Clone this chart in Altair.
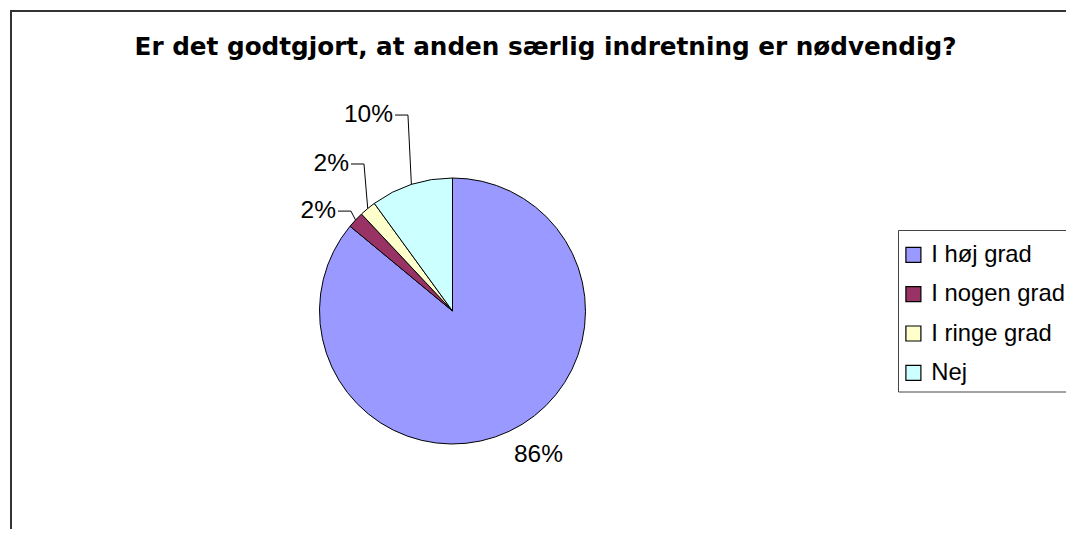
import math
import altair as alt
import pandas as pd

# ---- data ----
categories = ["I høj grad", "I nogen grad", "I ringe grad", "Nej"]
shares = [86, 2, 2, 10]
labels = ["86%", "2%", "2%", "10%"]
colors = ["#9999FF", "#993366", "#FFFFCC", "#CCFFFF"]
title_text = "Er det godtgjort, at anden særlig indretning er nødvendig?"

# ---- layout constants ----
W, H = 1058, 521
CX, CY, R = 444.5, 303, 133
label_dist = [181.5, 153.5, 179.8, 204.8]      # distance of label anchor from centre
label_turn = [-12.3, -2.6, 4.45, 1.1]          # rotation of label anchor from slice middle (deg)
leader = [False, True, True, True]

total = sum(shares)
cum = 0
mids = []
for s in shares:
    mids.append((cum + s / 2) / total * 360.0)
    cum += s

pie_df = pd.DataFrame({"category": categories, "share": shares, "idx": range(len(shares))})

lab_rows = []
line_rows = []
for i, (lab, m) in enumerate(zip(labels, mids)):
    a = math.radians(m + label_turn[i])
    lx = CX + label_dist[i] * math.sin(a)
    ly = CY - label_dist[i] * math.cos(a)
    lab_rows.append({"label": lab, "lx": lx, "ly": ly})
    if leader[i]:
        am = math.radians(m)
        ex = CX + R * math.sin(am)
        ey = CY - R * math.cos(am)
        pts = [(ex, ey), (lx + 15, ly), (lx + 2, ly)]
        for k, (px, py) in enumerate(pts):
            line_rows.append({"slice": categories[i], "k": k, "px": px, "py": py})
lab_df = pd.DataFrame(lab_rows)
line_df = pd.DataFrame(line_rows)
one = pd.DataFrame({"t": [title_text]})

frame = alt.Chart(one).mark_rect(
    fillOpacity=0, stroke="#333333", strokeWidth=2
).encode(x=alt.value(3), y=alt.value(3), x2=alt.value(3000), y2=alt.value(3000))

legend_box = alt.Chart(one).mark_rect(
    fill="white", stroke="#444444", strokeWidth=1
).encode(x=alt.value(890.5), y=alt.value(222.5), x2=alt.value(3000), y2=alt.value(384))

title = alt.Chart(one).mark_text(
    font="DejaVu Sans", fontWeight="bold", fontSize=24.7, color="black",
    align="center", baseline="alphabetic"
).encode(text="t:N", x=alt.value(537.5), y=alt.value(46.5))

pie = alt.Chart(pie_df).mark_arc(
    outerRadius=R, stroke="black", strokeWidth=1
).encode(
    theta=alt.Theta("share:Q", stack=True),
    order=alt.Order("idx:Q"),
    color=alt.Color(
        "category:N",
        scale=alt.Scale(domain=categories, range=colors),
        legend=alt.Legend(
            title=None, orient="none", legendX=893.5, legendY=235,
            symbolType="square", symbolSize=225, symbolStrokeColor="black",
            symbolStrokeWidth=1.2, labelFont="Liberation Sans", labelFontSize=23.8,
            labelColor="black", labelOffset=6, labelLimit=400, rowPadding=14.3,
            padding=0,
        ),
    ),
    x=alt.value(CX),
    y=alt.value(CY),
)

lines = alt.Chart(line_df).mark_line(color="black", strokeWidth=1).encode(
    x=alt.X("px:Q", scale=None),
    y=alt.Y("py:Q", scale=None),
    detail="slice:N",
    order="k:Q",
)

texts = alt.Chart(lab_df).mark_text(
    font="Liberation Sans", fontSize=24.5, color="black", align="right", baseline="middle"
).encode(
    x=alt.X("lx:Q", scale=None),
    y=alt.Y("ly:Q", scale=None),
    text="label:N",
)

chart = alt.layer(frame, legend_box, title, pie, lines, texts).properties(
    width=W, height=H,
    autosize=alt.AutoSizeParams(type="none"),
    padding=0,
    background="white",
).configure_view(stroke=None)

chart.save("out.html", embed_options={"renderer": "svg", "actions": False})
